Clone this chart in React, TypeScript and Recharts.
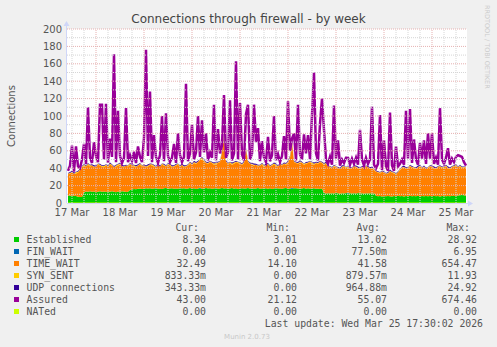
import React from 'react';
import { ComposedChart, Area, Line, XAxis, YAxis, ReferenceLine } from 'recharts';

// one sample per hour, starting 17 Mar 10:00 (hours counted from 17 Mar 00:00)
const startHour = 10;

const established = [
  8.5, 8.4, 8.6, 8.2, 8.0, 7.2, 6.8, 7.0, 12.5, 13.1, 12.8, 13.4, 12.9, 13.2, 12.6, 13.0, 13.5, 12.8, 13.1, 12.7,
  13.3, 12.9, 13.6, 13.0, 12.5, 13.2, 12.8, 13.4, 13.1, 12.7, 13.0, 14.8, 15.6, 16.2, 15.9, 16.4, 16.8, 16.1, 16.5, 17.0,
  16.6, 16.9, 16.3, 16.7, 17.2, 16.5, 16.8, 16.2, 16.9, 17.1, 16.4, 16.7, 17.0, 16.3, 16.8, 16.5, 17.2, 16.6, 16.9, 16.4,
  16.8, 17.1, 16.5, 16.9, 16.2, 16.7, 17.0, 16.4, 16.8, 17.3, 16.6, 16.9, 16.3, 16.7, 17.1, 16.5, 16.8, 17.2, 16.6, 16.9,
  16.4, 16.8, 17.1, 16.5, 16.9, 16.2, 16.7, 17.0, 16.6, 16.8, 17.2, 16.5, 16.9, 16.3, 16.7, 17.1, 16.4, 16.8, 16.6, 17.0,
  16.5, 16.9, 16.2, 16.7, 17.1, 16.6, 16.8, 16.3, 16.9, 17.2, 16.5, 16.8, 16.4, 16.9, 17.0, 16.6, 16.3, 16.8, 17.1, 16.5,
  16.9, 16.4, 16.7, 17.0, 16.5, 16.8, 16.2, 16.6, 11.4, 11.0, 11.3, 10.8, 11.2, 10.9, 11.5, 11.1, 10.7, 11.3, 11.0, 11.4,
  10.9, 11.2, 10.8, 11.3, 11.0, 11.4, 10.9, 11.1, 10.7, 11.2, 11.0, 11.3, 10.8, 11.1, 8.2, 7.8, 8.1, 7.6, 8.0, 7.7,
  8.1, 7.9, 7.5, 8.0, 7.7, 8.2, 7.8, 8.0, 7.6, 8.1, 7.9, 8.3, 7.7, 8.0, 7.8, 8.2, 7.6, 8.0, 7.9, 8.1,
  7.7, 8.0, 7.8, 8.3, 7.9, 8.1, 7.6, 8.0, 8.2, 7.8, 8.1, 7.9, 8.4, 8.0, 8.2, 8.6, 8.8, 9.1, 8.9, 8.3,
];

const finWait = [
  0, 0, 0, 0, 0, 0, 0, 0, 0, 0, 0, 0, 0, 0, 0, 0, 0, 0, 0, 0,
  0, 0, 0, 0, 0, 0, 0, 0, 0, 0, 0, 0, 0, 0, 0, 0, 0, 0, 0, 0,
  0, 0, 0, 0, 0, 0, 0, 0, 0, 0, 0, 0, 0, 0, 0, 0, 0, 0, 0, 0,
  0, 0, 0, 0, 0, 0, 0.5, 0, 0, 0, 0, 0, 0, 0, 0, 0, 0, 0, 0, 0,
  0, 0, 0, 0, 0, 0, 0, 0, 0, 0, 0, 0, 0, 0, 0, 0, 0, 0, 0, 0,
  0, 0, 0, 0, 0, 0, 0, 0, 0, 0, 0, 0, 1, 0, 0, 0, 0, 0, 0, 0,
  0, 0, 0, 0, 0, 0, 0, 0, 0, 0, 0, 0, 0, 0, 0, 0, 0, 0, 0, 0,
  0.5, 0, 0, 0, 0, 0, 0, 0, 0, 0, 0, 0, 0, 0, 0, 0, 0, 0, 0, 0,
  0, 0, 0, 0, 0, 0, 0, 0, 0, 0, 0, 0, 0, 0, 0, 0, 0, 0, 0, 0,
  0, 0, 0, 0, 0, 0, 0, 0, 0, 0, 0, 0, 0, 0, 0, 0, 0, 0, 0, 0,
];

const timeWait = [
  24.5, 25.6, 26.4, 25.3, 26.0, 27.8, 31.2, 34.0, 30.5, 28.9, 31.2, 28.6, 30.1, 27.8, 29.4, 31.0, 29.5, 29.2, 27.9, 30.3,
  28.7, 31.1, 29.4, 28.0, 29.5, 29.8, 31.2, 28.6, 27.9, 30.3, 29.0, 29.2, 27.4, 25.8, 25.1, 26.6, 27.2, 25.9, 26.5, 24.0,
  25.4, 27.1, 26.7, 25.3, 23.8, 26.5, 25.2, 27.8, 26.1, 24.9, 27.6, 26.3, 24.0, 25.7, 26.2, 27.5, 24.8, 26.4, 24.1, 25.6,
  26.2, 27.9, 27.5, 29.1, 28.8, 30.3, 32.0, 33.6, 31.2, 28.7, 28.4, 30.1, 29.7, 27.3, 27.9, 29.5, 30.2, 40.8, 59.4, 30.1,
  28.6, 29.2, 26.9, 28.5, 30.1, 29.8, 28.3, 27.0, 29.4, 44.2, 29.8, 28.5, 27.1, 26.7, 27.3, 24.9, 26.6, 27.2, 25.4, 26.0,
  27.5, 25.1, 26.8, 27.3, 25.9, 25.4, 27.2, 26.7, 28.1, 26.8, 29.5, 35.2, 51.6, 30.1, 29.0, 28.4, 30.7, 29.2, 26.9, 28.5,
  29.1, 30.6, 28.3, 27.0, 29.5, 28.2, 30.8, 29.4, 32.6, 34.0, 30.7, 30.2, 28.8, 31.1, 29.5, 28.9, 28.3, 29.7, 31.0, 28.6,
  30.1, 27.8, 29.2, 30.7, 30.0, 28.6, 28.1, 29.9, 29.3, 30.8, 30.0, 27.7, 29.2, 26.9, 27.8, 27.2, 25.9, 28.4, 27.0, 25.3,
  25.9, 28.1, 27.5, 26.0, 25.3, 26.8, 30.2, 32.0, 33.4, 30.9, 32.1, 33.7, 33.3, 32.0, 31.2, 32.8, 34.4, 32.0, 33.1, 30.9,
  32.3, 34.0, 33.2, 31.7, 31.1, 32.9, 34.4, 32.0, 32.8, 34.2, 31.9, 31.1, 32.6, 34.0, 34.8, 32.4, 33.2, 30.9, 32.1, 32.5,
];

const synSent = [
  1, 0.5, 1, 0, 1.5, 1, 0.5, 1, 1, 0.5, 1, 1.5, 0.5, 1, 0, 1, 1, 0.5, 1.5, 1,
  0.5, 1, 1, 0.5, 1, 1.5, 1, 0.5, 1, 0, 1, 1, 0.5, 1.5, 1, 0.5, 1, 1, 0.5, 1,
  1, 0.5, 1.5, 1, 0.5, 1, 0, 1, 1, 0.5, 1, 1.5, 1, 0.5, 1, 1, 0.5, 1, 1, 0.5,
  1, 1.5, 0.5, 1, 1, 0.5, 1, 2, 1, 0.5, 1, 1, 0.5, 1.5, 1, 0.5, 1, 1, 2.5, 1,
  0.5, 1, 1, 1.5, 0.5, 1, 1, 0.5, 1, 1.5, 1, 0.5, 1, 1, 0, 1, 0.5, 1, 1, 0.5,
  1, 0.5, 1, 1.5, 1, 0.5, 1, 1, 0.5, 1, 1, 1.5, 2, 1, 0.5, 1, 1, 0.5, 1, 1,
  0.5, 1, 1.5, 1, 0.5, 1, 1, 0.5, 1, 1, 0.5, 1, 0.5, 1, 1, 0.5, 0.5, 1, 0.5, 1,
  0.5, 1, 0.5, 0.5, 1, 0.5, 1, 0.5, 1, 0.5, 0.5, 1, 0.5, 1, 0.5, 0.5, 1, 0.5, 0.5, 1,
  0.5, 1, 0.5, 1, 0.5, 0.5, 1, 1, 0.5, 1, 0.5, 1, 0.5, 1, 1, 0.5, 1, 0.5, 1, 0.5,
  1, 0.5, 1, 0.5, 1, 1, 0.5, 1, 0.5, 1, 0.5, 1, 1, 0.5, 1, 0.5, 1, 1, 0.5, 0.8,
];

const udpConnections = [
  0.5, 1, 1, 1.5, 0.5, 1, 1, 0.5, 1.5, 1, 1, 0.5, 1, 1.5, 1, 0.5, 1, 1, 1, 0.5,
  1, 1.5, 0.5, 1, 1, 0.5, 1, 1.5, 1, 1, 0.5, 1, 1, 0.5, 1.5, 1, 1, 0.5, 1, 1,
  1.5, 1, 0.5, 1, 1, 1.5, 1, 0.5, 1, 1, 1, 0.5, 1.5, 1, 1, 0.5, 1, 1, 1.5, 1,
  0.5, 1, 1, 1.5, 1, 1, 0.5, 1, 1.5, 1, 1, 0.5, 1, 1, 1.5, 1, 0.5, 1, 2, 1,
  1, 0.5, 1.5, 1, 1, 0.5, 1, 1, 1.5, 1, 0.5, 1, 1, 1.5, 1, 1, 0.5, 1, 1, 1.5,
  1, 1, 0.5, 1, 1.5, 1, 1, 0.5, 1, 1, 1.5, 1, 1, 0.5, 1, 1, 1.5, 1, 0.5, 1,
  1, 0.5, 1, 1.5, 1, 1, 0.5, 1, 1, 1.5, 1, 0.5, 1, 1, 0.5, 1, 1, 1.5, 1, 0.5,
  1, 1, 0.5, 1, 1, 1.5, 0.5, 1, 1, 0.5, 1, 1, 1.5, 0.5, 1, 1, 0.5, 1, 1, 0.5,
  1, 1.5, 1, 0.5, 1, 1, 0.5, 1, 1.5, 1, 0.5, 1, 1, 0.5, 1, 1.5, 1, 0.5, 1, 1,
  0.5, 1, 1, 1.5, 1, 0.5, 1, 1, 0.5, 1, 1.5, 1, 0.5, 1, 1, 0.5, 1, 1, 0.5, 0.3,
];

const assured = [
  37, 43, 66, 36, 65, 42, 40, 50, 68, 45, 110, 52, 46, 70, 54, 47, 113, 113, 50, 114,
  46, 74, 53, 171, 47, 106, 54, 46, 52, 109, 47, 55, 48, 59, 46, 65, 53, 47, 75, 176,
  54, 128, 47, 78, 53, 46, 55, 100, 48, 103, 54, 47, 52, 68, 46, 80, 55, 47, 53, 137,
  48, 57, 90, 50, 58, 100, 53, 95, 58, 80, 49, 58, 52, 113, 49, 85, 57, 66, 124, 52,
  58, 118, 49, 57, 163, 50, 115, 56, 49, 102, 113, 50, 57, 113, 70, 86, 48, 71, 52, 47,
  76, 48, 55, 100, 49, 56, 47, 54, 77, 50, 117, 60, 74, 80, 49, 113, 56, 50, 79, 57,
  78, 50, 101, 150, 57, 49, 91, 120, 84, 50, 45, 53, 44, 112, 51, 72, 43, 50, 46, 52,
  52, 44, 51, 45, 52, 44, 84, 50, 43, 52, 45, 50, 111, 44, 40, 45, 101, 38, 72, 42,
  37, 104, 43, 37, 65, 42, 45, 50, 44, 106, 51, 108, 46, 73, 50, 44, 69, 51, 72, 45,
  80, 51, 80, 45, 52, 44, 109, 50, 45, 52, 63, 44, 51, 47, 53, 55, 54, 53, 47, 43,
];

const nated = [
  0, 0, 0, 0, 0, 0, 0, 0, 0, 0, 0, 0, 0, 0, 0, 0, 0, 0, 0, 0,
  0, 0, 0, 0, 0, 0, 0, 0, 0, 0, 0, 0, 0, 0, 0, 0, 0, 0, 0, 0,
  0, 0, 0, 0, 0, 0, 0, 0, 0, 0, 0, 0, 0, 0, 0, 0, 0, 0, 0, 0,
  0, 0, 0, 0, 0, 0, 0, 0, 0, 0, 0, 0, 0, 0, 0, 0, 0, 0, 0, 0,
  0, 0, 0, 0, 0, 0, 0, 0, 0, 0, 0, 0, 0, 0, 0, 0, 0, 0, 0, 0,
  0, 0, 0, 0, 0, 0, 0, 0, 0, 0, 0, 0, 0, 0, 0, 0, 0, 0, 0, 0,
  0, 0, 0, 0, 0, 0, 0, 0, 0, 0, 0, 0, 0, 0, 0, 0, 0, 0, 0, 0,
  0, 0, 0, 0, 0, 0, 0, 0, 0, 0, 0, 0, 0, 0, 0, 0, 0, 0, 0, 0,
  0, 0, 0, 0, 0, 0, 0, 0, 0, 0, 0, 0, 0, 0, 0, 0, 0, 0, 0, 0,
  0, 0, 0, 0, 0, 0, 0, 0, 0, 0, 0, 0, 0, 0, 0, 0, 0, 0, 0, 0,
];

const dayLabelHours = [12, 36, 60, 84, 108, 132, 156, 180, 204];
const dayLabels = ['17 Mar', '18 Mar', '19 Mar', '20 Mar', '21 Mar', '22 Mar', '23 Mar', '24 Mar', '25 Mar'];
const gridHours = [12, 18, 24, 30, 36, 42, 48, 54, 60, 66, 72, 78, 84, 90, 96, 102, 108, 114, 120, 126, 132, 138, 144, 150, 156, 162, 168, 174, 180, 186, 192, 198, 204];
const yTicks = [0, 20, 40, 60, 80, 100, 120, 140, 160, 180, 200];
const yGrid = [10, 20, 30, 40, 50, 60, 70, 80, 90, 100, 110, 120, 130, 140, 150, 160, 170, 180, 190, 200];

const legendNames = ['Established', 'FIN_WAIT', 'TIME_WAIT', 'SYN_SENT', 'UDP connections', 'Assured', 'NATed'];
const legendColors = ['#00cc00', '#0066b3', '#ff8000', '#ffcc00', '#330099', '#990099', '#ccff00'];
const curValues = ['8.34', '0.00', '32.49', '833.33m', '343.33m', '43.00', '0.00'];
const minValues = ['3.01', '0.00', '14.10', '0.00', '0.00', '21.12', '0.00'];
const avgValues = ['13.02', '77.50m', '41.58', '879.57m', '964.88m', '55.07', '0.00'];
const maxValues = ['28.92', '6.95', '654.47', '11.93', '24.92', '674.46', '0.00'];

const rows = established.map((v, i) => ({
  t: startHour + i,
  established: v,
  finWait: finWait[i],
  timeWait: timeWait[i],
  synSent: synSent[i],
  udp: udpConnections[i],
  assured: assured[i],
  nated: nated[i],
}));

const MAJOR = '#e6b0b0';
const MINOR = '#d6d6d6';
const AXIS = '#cfd6f8';
const FONT = 'DejaVu Sans, sans-serif';
const MONO = 'DejaVu Sans Mono, monospace';

const App: React.FC = () => {
  return (
    <div style={{ position: 'relative', width: 497, height: 347, background: '#f0f0f0', overflow: 'hidden' }}>
      <style>{'body{margin:0}'}</style>
      <div style={{ position: 'absolute', left: 67, top: 29, width: 400, height: 174, background: '#ffffff' }} />
      <div style={{ position: 'absolute', left: 0, top: 0 }}>
        <ComposedChart width={497} height={347} data={rows} margin={{ top: 29, right: 30, left: 27, bottom: 124 }}>
          <XAxis
            type="number"
            dataKey="t"
            domain={[9.5, 209.5]}
            ticks={dayLabelHours}
            interval={0}
            allowDataOverflow
            height={20}
            axisLine={false}
            tickLine={false}
            tickSize={0}
            tickMargin={6}
            tickFormatter={(v: number) => dayLabels[dayLabelHours.indexOf(v)]}
            tick={{ fill: '#555555', fontSize: 10, fontFamily: FONT }}
          />
          <YAxis
            type="number"
            domain={[0, 200]}
            ticks={yTicks}
            interval={0}
            allowDataOverflow
            width={40}
            axisLine={false}
            tickLine={false}
            tickSize={0}
            tickMargin={5}
            tick={{ fill: '#555555', fontSize: 10, fontFamily: FONT }}
          />
          <Area type="linear" dataKey="established" stackId="s" stroke="none" fill="#00cc00" fillOpacity={1} isAnimationActive={false} />
          <Area type="linear" dataKey="finWait" stackId="s" stroke="none" fill="#0066b3" fillOpacity={1} isAnimationActive={false} />
          <Area type="linear" dataKey="timeWait" stackId="s" stroke="none" fill="#ff8000" fillOpacity={1} isAnimationActive={false} />
          <Area type="linear" dataKey="synSent" stackId="s" stroke="none" fill="#ffcc00" fillOpacity={1} isAnimationActive={false} />
          <Area type="linear" dataKey="udp" stackId="s" stroke="none" fill="#330099" fillOpacity={1} isAnimationActive={false} />
          <Line type="linear" dataKey="assured" stroke="#990099" strokeWidth={2.5} dot={false} isAnimationActive={false} />
          <Line type="linear" dataKey="nated" stroke="#ccff00" strokeWidth={1} dot={false} isAnimationActive={false} />
          {yGrid.map((y) => (
            <ReferenceLine key={'y' + y} y={y} stroke={y % 20 === 0 ? MAJOR : MINOR} strokeDasharray="1 1" />
          ))}
          {gridHours.map((h) => (
            <ReferenceLine key={'x' + h} x={h} stroke={h % 24 === 0 ? MAJOR : MINOR} strokeDasharray="1 1" />
          ))}
        </ComposedChart>
      </div>
      <svg width={497} height={347} style={{ position: 'absolute', left: 0, top: 0, pointerEvents: 'none' }}>
        <line x1={67} y1={203.5} x2={470} y2={203.5} stroke={AXIS} strokeWidth={1} />
        <polygon points="468,200.5 468,206.5 473,203.5" fill={AXIS} />
        <line x1={66.5} y1={203} x2={66.5} y2={25} stroke={AXIS} strokeWidth={1} />
        <polygon points="63.5,26 69.5,26 66.5,21" fill={AXIS} />
        <text x={248.5} y={23} textAnchor="middle" fontFamily={FONT} fontSize={12} fill="#444444">
          Connections through firewall - by week
        </text>
        <text x={15} y={116} textAnchor="middle" fontFamily={FONT} fontSize={10} fill="#555555" transform="rotate(-90 15 116)">
          Connections
        </text>
        <text x={485} y={5} fontFamily={FONT} fontSize={6.5} fill="#cccccc" transform="rotate(90 485 5)">
          RRDTOOL / TOBI OETIKER
        </text>
        <g fontFamily={MONO} fontSize={9.8} fill="#555555">
          <text x={199} y={231} textAnchor="end">Cur:</text>
          <text x={290} y={231} textAnchor="end">Min:</text>
          <text x={380} y={231} textAnchor="end">Avg:</text>
          <text x={470} y={231} textAnchor="end">Max:</text>
          {legendNames.map((name, i) => (
            <g key={name}>
              <rect x={14} y={237 + i * 12} width={5} height={5} fill={legendColors[i]} />
              <text x={26.5} y={243 + i * 12}>{name}</text>
              <text x={206} y={243 + i * 12} textAnchor="end">{curValues[i]}</text>
              <text x={297} y={243 + i * 12} textAnchor="end">{minValues[i]}</text>
              <text x={387} y={243 + i * 12} textAnchor="end">{avgValues[i]}</text>
              <text x={477} y={243 + i * 12} textAnchor="end">{maxValues[i]}</text>
            </g>
          ))}
          <text x={483} y={327} textAnchor="end">Last update: Wed Mar 25 17:30:02 2026</text>
        </g>
        <text x={247} y={338.5} textAnchor="middle" fontFamily={FONT} fontSize={7} fill="#c8c8c8">
          Munin 2.0.73
        </text>
      </svg>
    </div>
  );
};

export default App;
